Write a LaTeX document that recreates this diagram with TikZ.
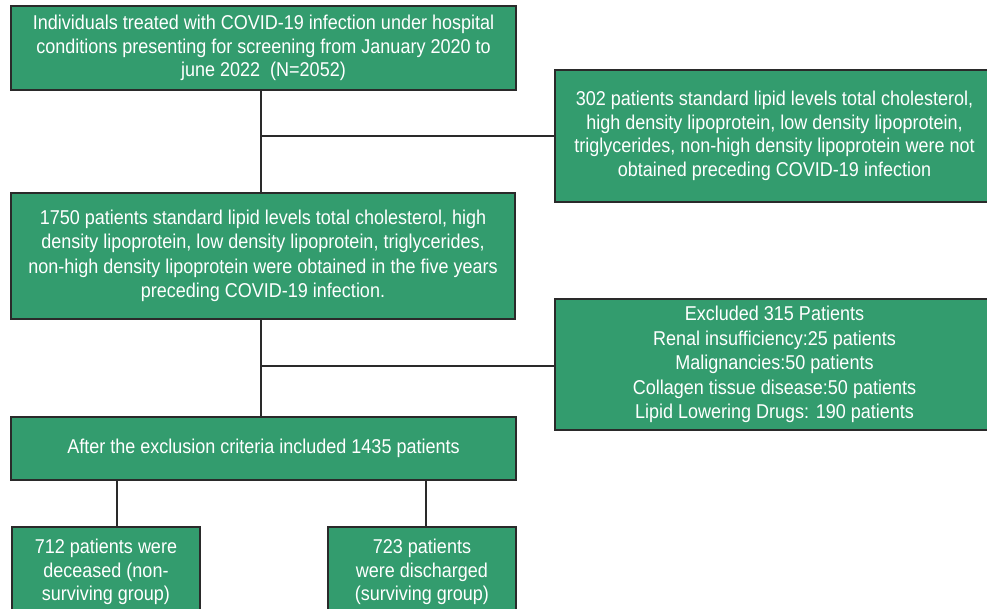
\documentclass[tikz,border=0pt]{standalone}
\usepackage{fontspec}
\setmainfont[FakeStretch=0.9]{Liberation Sans}
\definecolor{boxgreen}{HTML}{339C6E}
\definecolor{edgegray}{HTML}{2A2A2A}
\begin{document}
\begin{tikzpicture}[x=1pt,y=-1pt,
  flowbox/.style={draw=edgegray, line width=2pt, fill=boxgreen, text=white,
    inner sep=0pt, align=center, font=\fontsize{20}{23.5}\selectfont},
  widelead/.style={font=\fontsize{20}{24.4}\selectfont},
  link/.style={draw=edgegray, line width=2pt}]
\useasboundingbox (0,0) rectangle (987,608);
\clip (0,0) rectangle (987,608);
\node[flowbox, minimum width=505pt, minimum height=84pt] (b1) at (263.5,48)
  {Individuals treated with COVID-19 infection under hospital\\conditions presenting for screening from January 2020 to\\june 2022~~(N=2052)};
\node[flowbox, minimum width=439pt, minimum height=132pt] (r1) at (774.5,136)
  {302 patients standard lipid levels total cholesterol,\\high density lipoprotein, low density lipoprotein,\\triglycerides, non-high density lipoprotein were not\\obtained preceding COVID-19 infection};
\node[flowbox, widelead, minimum width=504pt, minimum height=126pt] (b2) at (263,256)
  {1750 patients standard lipid levels total cholesterol, high\\density lipoprotein, low density lipoprotein, triglycerides,\\non-high density lipoprotein were obtained in the five years\\preceding COVID-19 infection.};
\node[flowbox, widelead, minimum width=439pt, minimum height=131pt] (r2) at (774.5,364.5)
  {Excluded 315 Patients\\Renal insufficiency:25 patients\\Malignancies:50 patients\\Collagen tissue disease:50 patients\\Lipid Lowering Drugs: 190 patients};
\node[flowbox, minimum width=505pt, minimum height=63pt] (b3) at (263.5,448.5)
  {After the exclusion criteria included 1435 patients};
\node[flowbox, minimum width=188pt, minimum height=90pt] (b4) at (106,572)
  {712 patients were\\deceased (non-\\surviving group)};
\node[flowbox, minimum width=188pt, minimum height=90pt] (b5) at (422,572)
  {723 patients\\were discharged\\(surviving group)};
\coordinate (j1) at (261,136);
\coordinate (j2) at (261,366);
\coordinate (k1) at (117,500);
\coordinate (k2) at (426,500);
\draw[link] (b1.south -| j1) -- (b2.north -| j1);
\draw[link] (j1) -- (r1.west |- j1);
\draw[link] (b2.south -| j2) -- (b3.north -| j2);
\draw[link] (j2) -- (r2.west |- j2);
\draw[link] (b3.south -| k1) -- (b4.north -| k1);
\draw[link] (b3.south -| k2) -- (b5.north -| k2);
\end{tikzpicture}
\end{document}
